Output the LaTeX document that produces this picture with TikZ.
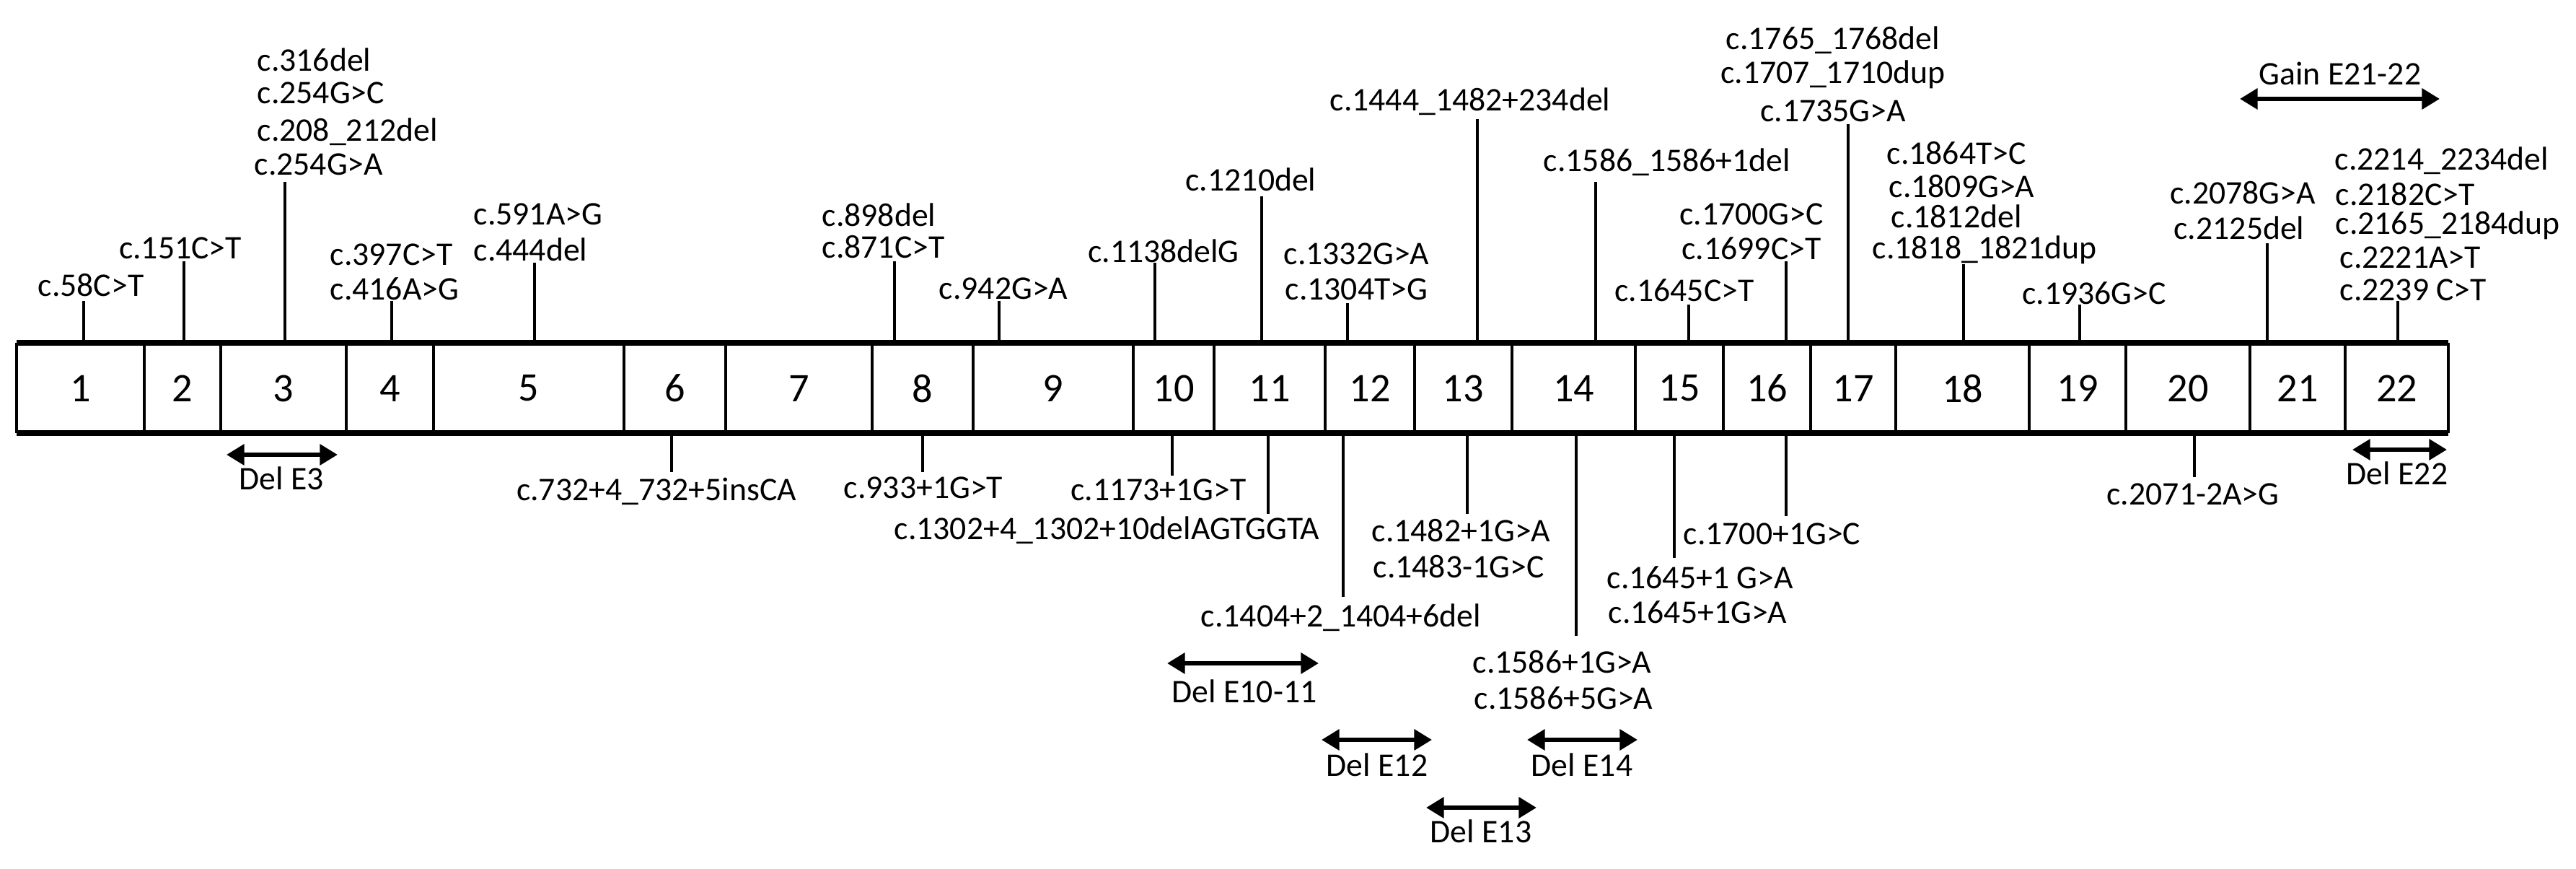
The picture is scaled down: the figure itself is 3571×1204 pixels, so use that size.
\documentclass[tikz,border=0pt]{standalone}
\usepackage{fontspec}
\setmainfont{Carlito}
\usetikzlibrary{arrows.meta}
\begin{document}
\begin{tikzpicture}[x=0.01cm,y=-0.01cm,
  lab/.style={font=\fontsize{13}{15}\selectfont, inner sep=0pt},
  labl/.style={lab, anchor=west},
  num/.style={font=\fontsize{16}{18}\selectfont, inner sep=0pt},
  tick/.style={line width=0.9pt},
  dbl/.style={line width=1.7pt, {Triangle[length=7pt,width=8pt]}-{Triangle[length=7pt,width=8pt]}}]
\useasboundingbox[fill=white] (0,0) rectangle (3571,1204);
% exon bar
\draw[line width=2.2pt] (23,475) -- (3394,475) (23,600) -- (3394,600);
\foreach \x in {23,200,306,480,601,865,1006,1209,1349,1571,1683,1837,1961,2096,2267,2389,2510,2628,2813,2947,3119,3251,3394}
  \draw[line width=1.4pt] (\x,475) -- (\x,600);
\foreach \a/\b/\n in {23/200/1,200/306/2,306/480/3,480/601/4,601/865/5,865/1006/6,1006/1209/7,1209/1349/8,1349/1571/9,1571/1683/10,1683/1837/11,1837/1961/12,1961/2096/13,2096/2267/14,2267/2389/15,2389/2510/16,2510/2628/17,2628/2813/18,2813/2947/19,2947/3119/20,3119/3251/21,3251/3394/22}
  \node[num] (ex\n) at ({(\a+\b)/2},538) {\n};
% ---- top labels ----
\node[lab] (l1) at (126,395) {c.58C>T};
\coordinate (t1a) at (116,417); \coordinate (t1b) at (116,475);
\node[lab] (l2) at (250,344) {c.151C>T};
\coordinate (t2a) at (255,362); \coordinate (t2b) at (255,475);
\node[labl] (l3a) at (356,83) {c.316del};
\node[labl] (l3b) at (356,129) {c.254G>C};
\node[labl] (l3c) at (356,183) {c.208\_212del};
\node[labl] (l3d) at (352,228) {c.254G>A};
\coordinate (t3a) at (395,252); \coordinate (t3b) at (395,475);
\node[labl] (l4a) at (457,353) {c.397C>T};
\node[labl] (l4b) at (457,400) {c.416A>G};
\coordinate (t4a) at (543,417); \coordinate (t4b) at (543,475);
\node[labl] (l5a) at (656,297) {c.591A>G};
\node[labl] (l5b) at (656,346) {c.444del};
\coordinate (t5a) at (741,364); \coordinate (t5b) at (741,475);
\node[labl] (l8a) at (1139,298) {c.898del};
\node[labl] (l8b) at (1139,342) {c.871C>T};
\coordinate (t8a) at (1240,362); \coordinate (t8b) at (1240,475);
\node[lab] (l9) at (1391,400) {c.942G>A};
\coordinate (t9a) at (1385,417); \coordinate (t9b) at (1385,475);
\node[lab] (l10) at (1613,348) {c.1138delG};
\coordinate (t10a) at (1601,364); \coordinate (t10b) at (1601,475);
\node[lab] (l11) at (1734,249) {c.1210del};
\coordinate (t11a) at (1749,272); \coordinate (t11b) at (1749,475);
\node[labl] (l12a) at (1779,352) {c.1332G>A};
\node[labl] (l12b) at (1781,401) {c.1304T>G};
\coordinate (t12a) at (1868,420); \coordinate (t12b) at (1868,475);
\node[lab] (l13) at (2038,141) {c.1444\_1482+234del};
\coordinate (t13a) at (2048,165); \coordinate (t13b) at (2048,475);
\node[lab] (l14) at (2311,225) {c.1586\_1586+1del};
\coordinate (t14a) at (2212,252); \coordinate (t14b) at (2212,475);
\node[lab] (l15) at (2335,402) {c.1645C>T};
\coordinate (t15a) at (2341,422); \coordinate (t15b) at (2341,475);
\node[lab] (l16a) at (2428,297) {c.1700G>C};
\node[lab] (l16b) at (2428,344) {c.1699C>T};
\coordinate (t16a) at (2476,362); \coordinate (t16b) at (2476,475);
\node[lab] (l17a) at (2541,56) {c.1765\_1768del};
\node[lab] (l17b) at (2541,103) {c.1707\_1710dup};
\node[lab] (l17c) at (2541,154) {c.1735G>A};
\coordinate (t17a) at (2562,172); \coordinate (t17b) at (2562,475);
\node[labl] (l18a) at (2615,212) {c.1864T>C};
\node[labl] (l18b) at (2618,258) {c.1809G>A};
\node[labl] (l18c) at (2621,300) {c.1812del};
\node[labl] (l18d) at (2595,346) {c.1818\_1821dup};
\coordinate (t18a) at (2722,366); \coordinate (t18b) at (2722,475);
\node[lab] (l19) at (2903,406) {c.1936G>C};
\coordinate (t19a) at (2883,422); \coordinate (t19b) at (2883,475);
\node[lab] (l21a) at (3109,267) {c.2078G>A};
\node[lab] (l21b) at (3104,316) {c.2125del};
\coordinate (t21a) at (3143,337); \coordinate (t21b) at (3143,475);
\node[labl] (l22a) at (3236,223) {c.2214\_2234del};
\node[labl] (l22b) at (3237,269) {c.2182C>T};
\node[labl] (l22c) at (3237,312) {c.2165\_2184dup};
\node[labl] (l22d) at (3243,357) {c.2221A>T};
\node[labl] (l22e) at (3243,402) {c.2239 C>T};
\coordinate (t22a) at (3324,417); \coordinate (t22b) at (3324,475);
\foreach \i in {1,2,3,4,5,8,9,10,11,12,13,14,15,16,17,18,19,21,22}
  \draw[tick] (t\i a) -- (t\i b);
% ---- bottom labels ----
\coordinate (b6a) at (931,600); \coordinate (b6b) at (931,654);
\node[lab] (m6) at (910,681) {c.732+4\_732+5insCA};
\coordinate (b8a) at (1279,600); \coordinate (b8b) at (1279,654);
\node[lab] (m8) at (1280,676) {c.933+1G>T};
\coordinate (b10a) at (1625,600); \coordinate (b10b) at (1625,659);
\node[lab] (m10) at (1606,679) {c.1173+1G>T};
\coordinate (b11a) at (1758,600); \coordinate (b11b) at (1758,712);
\node[lab, anchor=east] (m11) at (1830,735) {c.1302+4\_1302+10delAGTGGTA};
\coordinate (b12a) at (1862,600); \coordinate (b12b) at (1862,827);
\node[lab] (m12) at (1859,856) {c.1404+2\_1404+6del};
\coordinate (b13a) at (2034,600); \coordinate (b13b) at (2034,712);
\node[labl] (m13a) at (1901,735) {c.1482+1G>A};
\node[labl] (m13b) at (1903,785) {c.1483-1G>C};
\coordinate (b14a) at (2185,600); \coordinate (b14b) at (2185,881);
\node[labl] (m14a) at (2041,917) {c.1586+1G>A};
\node[labl] (m14b) at (2043,967) {c.1586+5G>A};
\coordinate (b15a) at (2321,600); \coordinate (b15b) at (2321,773);
\node[labl] (m15a) at (2227,800) {c.1645+1 G>A};
\node[labl] (m15b) at (2229,848) {c.1645+1G>A};
\coordinate (b16a) at (2476,600); \coordinate (b16b) at (2476,715);
\node[labl] (m16) at (2333,740) {c.1700+1G>C};
\coordinate (b20a) at (3042,600); \coordinate (b20b) at (3042,661);
\node[lab] (m20) at (3040,685) {c.2071-2A>G};
\foreach \i in {6,8,10,11,12,13,14,15,16,20}
  \draw[tick] (b\i a) -- (b\i b);
% ---- deletion / gain arrows ----
\coordinate (d3a) at (314,630); \coordinate (d3b) at (468,630);
\draw[dbl] (d3a) -- (d3b);
\node[lab] (n3) at (390,663) {Del E3};
\coordinate (d10a) at (1618,919); \coordinate (d10b) at (1828,919);
\draw[dbl] (d10a) -- (d10b);
\node[lab] (n10) at (1725,958) {Del E10-11};
\coordinate (d12a) at (1832,1025); \coordinate (d12b) at (1985,1025);
\draw[dbl] (d12a) -- (d12b);
\node[lab] (n12) at (1909,1060) {Del E12};
\coordinate (d14a) at (2117,1025); \coordinate (d14b) at (2270,1025);
\draw[dbl] (d14a) -- (d14b);
\node[lab] (n14) at (2193,1060) {Del E14};
\coordinate (d13a) at (1977,1119); \coordinate (d13b) at (2130,1119);
\draw[dbl] (d13a) -- (d13b);
\node[lab] (n13) at (2053,1152) {Del E13};
\coordinate (d22a) at (3261,623); \coordinate (d22b) at (3392,623);
\draw[dbl] (d22a) -- (d22b);
\node[lab] (n22) at (3323,656) {Del E22};
\coordinate (g21a) at (3105,137); \coordinate (g21b) at (3382,137);
\draw[dbl] (g21a) -- (g21b);
\node[lab] (n21) at (3244,102) {Gain E21-22};
\end{tikzpicture}
\end{document}
